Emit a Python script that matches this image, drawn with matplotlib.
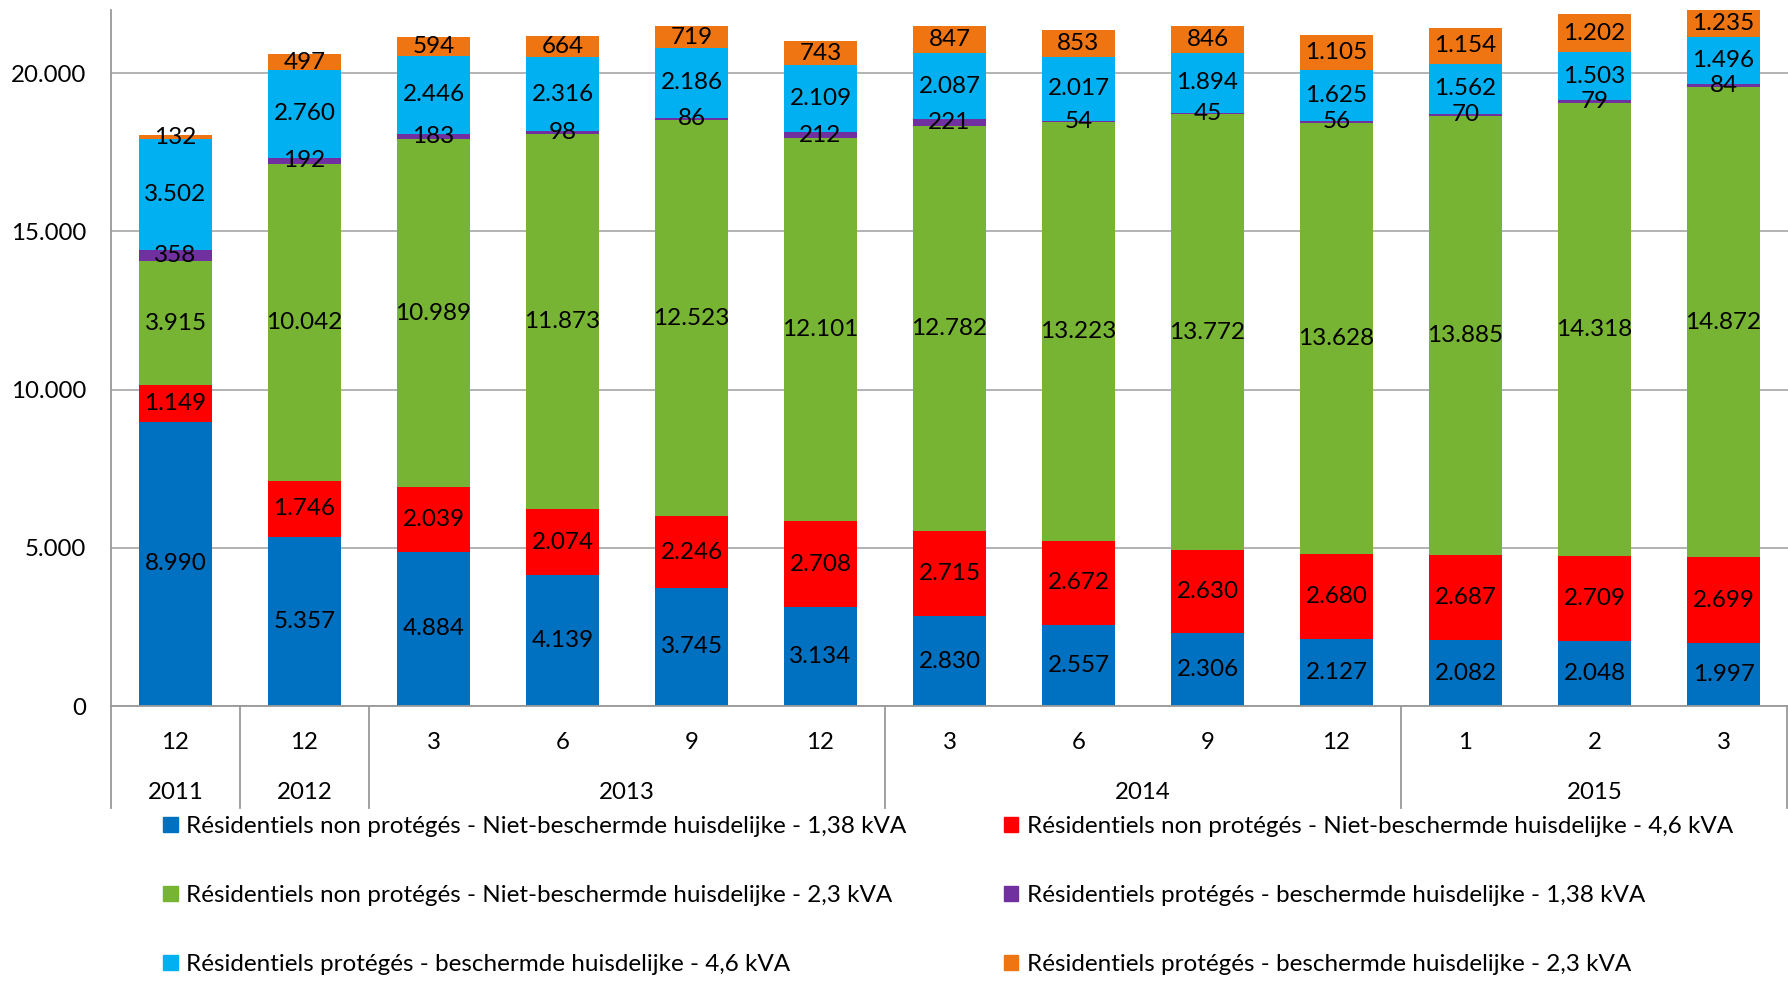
import matplotlib
matplotlib.use("Agg")
import matplotlib.pyplot as plt
import matplotlib.patches as mpatches
import numpy as np

plt.rcParams["font.family"] = ["Lato", "DejaVu Sans"]

# categories (month / year)
months = ["12", "12", "3", "6", "9", "12", "3", "6", "9", "12", "1", "2", "3"]
years = ["2011", "2012", "2013", "2014", "2015"]
year_spans = [(0, 0), (1, 1), (2, 5), (6, 9), (10, 12)]

# series, bottom to top
nonprot_138 = [8990, 5357, 4884, 4139, 3745, 3134, 2830, 2557, 2306, 2127, 2082, 2048, 1997]
nonprot_46 = [1149, 1746, 2039, 2074, 2246, 2708, 2715, 2672, 2630, 2680, 2687, 2709, 2699]
nonprot_23 = [3915, 10042, 10989, 11873, 12523, 12101, 12782, 13223, 13772, 13628, 13885, 14318, 14872]
prot_138 = [358, 192, 183, 98, 86, 212, 221, 54, 45, 56, 70, 79, 84]
prot_46 = [3502, 2760, 2446, 2316, 2186, 2109, 2087, 2017, 1894, 1625, 1562, 1503, 1496]
prot_23 = [132, 497, 594, 664, 719, 743, 847, 853, 846, 1105, 1154, 1202, 1235]

series = [nonprot_138, nonprot_46, nonprot_23, prot_138, prot_46, prot_23]
names = [
    "Résidentiels non protégés - Niet-beschermde huisdelijke - 1,38 kVA",
    "Résidentiels non protégés - Niet-beschermde huisdelijke - 4,6 kVA",
    "Résidentiels non protégés - Niet-beschermde huisdelijke - 2,3 kVA",
    "Résidentiels protégés - beschermde huisdelijke - 1,38 kVA",
    "Résidentiels protégés - beschermde huisdelijke - 4,6 kVA",
    "Résidentiels protégés - beschermde huisdelijke - 2,3 kVA",
]
colors = ["#0070C0", "#FF0000", "#77B433", "#7030A0", "#00B0F0", "#EF7512"]


def fmt(v):
    return f"{v:,}".replace(",", ".")


fig = plt.figure(figsize=(17.88, 9.81), dpi=100)
ax = fig.add_axes([111 / 1788, 0.2803, 1 - 111 / 1788, 0.7095])

x = np.arange(len(months))
bottom = np.zeros(len(months))
for vals, name, c in zip(series, names, colors):
    bars = ax.bar(x, vals, 0.571, bottom=bottom, color=c, label=name, zorder=2)
    ax.bar_label(bars, labels=[fmt(v) for v in vals], label_type="center",
                 fontsize=17.5, color="black", zorder=3)
    bottom += np.array(vals)

ax.set_xlim(-0.5, len(months) - 0.5)
ax.set_ylim(0, 22000)
ax.set_yticks([0, 5000, 10000, 15000, 20000])
ax.set_yticklabels([fmt(v) for v in [0, 5000, 10000, 15000, 20000]], fontsize=17.3)
ax.tick_params(axis="y", length=0, pad=18)
ax.set_xticks([])
ax.grid(axis="y", color="#A6A6A6", linewidth=1.2)
ax.set_axisbelow(True)

for s in ["top", "right"]:
    ax.spines[s].set_visible(False)
for s in ["left", "bottom"]:
    ax.spines[s].set_color("#999999")
    ax.spines[s].set_linewidth(1.3)

# two-level category axis
trans = ax.get_xaxis_transform()
for xi, m in zip(x, months):
    ax.text(xi, -0.052, m, transform=trans, ha="center", va="center", fontsize=17.3)
for yr, (a, b) in zip(years, year_spans):
    ax.text((a + b) / 2, -0.124, yr, transform=trans, ha="center", va="center", fontsize=17.3)
for xb in [-0.5, 0.5, 1.5, 5.5, 9.5, 12.49]:
    ax.plot([xb, xb], [0, -0.147], transform=trans, color="#999999",
            linewidth=1.3, clip_on=False)

# legend, row-major order
handles = [mpatches.Patch(color=c) for c in colors]
order = [0, 2, 4, 1, 3, 5]
fig.legend([handles[i] for i in order], [names[i] for i in order],
           loc="upper left", bbox_to_anchor=(163 / 1788, 1 - 816 / 981),
           ncol=2, frameon=False, fontsize=17.5, handlelength=0.6, handleheight=0.6,
           handletextpad=0.35, columnspacing=4.0, labelspacing=1.98,
           borderpad=0, borderaxespad=0)

fig.savefig("out.png", dpi=100)
